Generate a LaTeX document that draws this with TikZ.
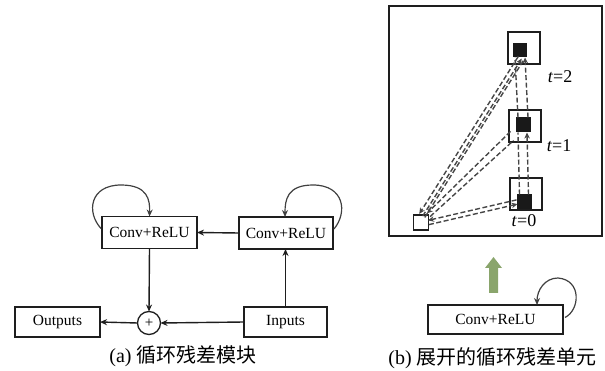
\documentclass[tikz,border=0pt]{standalone}
\usepackage{fontspec}
\setmainfont{Liberation Serif}
\newfontfamily\cjk{Noto Sans CJK SC}
\usetikzlibrary{arrows.meta,calc}
\definecolor{ink}{RGB}{30,30,30}
\definecolor{dashgray}{RGB}{70,70,70}
\definecolor{upgreen}{RGB}{138,165,108}
\begin{document}
\begin{tikzpicture}[x=1pt,y=-1pt,
  every node/.style={inner sep=0pt,outer sep=0pt},
  blockbox/.style={draw=ink,line width=1.3pt,font=\fontsize{15.5}{17}\selectfont,anchor=center},
  flow/.style={draw=ink,line width=1.4pt,-{Stealth[length=7pt,width=6pt]}},
  loopline/.style={draw=ink!85,line width=1.2pt,-{Stealth[length=7pt,width=6pt]}},
  frame/.style={draw=ink,line width=1.4pt},
  cellbox/.style={draw=ink,line width=1.4pt,minimum width=32pt,minimum height=32pt},
  blackcell/.style={fill=black!90,minimum size=15pt},
  dl/.style={draw=dashgray,line width=1.4pt,dash pattern=on 5pt off 2.5pt},
  dlarrow/.style={dl,-{Stealth[length=6pt,width=5.5pt]}},
  tlabel/.style={font=\fontsize{18}{20}\selectfont},
  caption/.style={font=\fontsize{20}{22}\selectfont}
]
\useasboundingbox (0,0) rectangle (605,371);

% ---------- (a) recurrent residual block ----------
\node[blockbox,minimum width=95pt,minimum height=32pt] (c1) at (149.5,232.5) {Conv+ReLU};
\node[blockbox,minimum width=94pt,minimum height=32pt] (c2) at (286,233) {Conv+ReLU};
\node[blockbox,minimum width=85pt,minimum height=30pt] (out) at (57.5,322) {Outputs};
\node[blockbox,minimum width=83pt,minimum height=30pt] (in) at (285.5,322) {Inputs};
\node[draw=ink,line width=1.3pt,circle,minimum size=23pt,font=\fontsize{15}{16}\selectfont] (plus) at (149,323) {+};

\draw[flow] (c2.west) -- (c1.east);
\draw[flow] (in.north) -- (in.north |- c2.south);
\draw[flow] (c1.south) -- (plus.north);
\draw[flow] (in.west) -- (plus.east);
\draw[flow] (plus.west) -- (out.east);

% self loops
\draw[loopline] ([shift={(-1,-4)}]c1.west)
  .. controls (86,212) and (90,185) .. (121,185)
  .. controls (148,185) and (150,200) .. (c1.north);
\draw[loopline] ([shift={(1,-4)}]c2.east)
  .. controls (348,212) and (344,185) .. (313,185)
  .. controls (287,185) and (285,200) .. ([xshift=-1]c2.north);

\node[caption,anchor=center] (capa) at (183,356) {(a) {\cjk 循环残差模块}};

% ---------- (b) unrolled recurrent residual unit ----------
\draw[frame] (389,6) rectangle (602,236);

\node[cellbox] (f2) at (524,48) {};
\node[cellbox] (f1) at (525,126) {};
\node[cellbox] (f0) at (526,194) {};
\node[blackcell,minimum size=14pt] (b2) at (520,50.5) {};
\node[blackcell] (b1) at (523,125) {};
\node[blackcell] (b0) at (524.5,202) {};
\node[draw=ink,line width=1.1pt,fill=white,minimum size=15pt] (ws) at (421,222.5) {};

% input node to every time step
\draw[dlarrow] ([shift={(1.7,1.1)}]ws.north) -- ([shift={(1.7,1.1)}]b2.south);
\draw[dlarrow] ([shift={(-1.7,-1.1)}]b2.south) -- ([shift={(-1.7,-1.1)}]ws.north);
\draw[dl] ([shift={(3.8,2.4)}]ws.north) -- ([shift={(3.8,2.4)}]b2.south);

\draw[dl] ([shift={(1.6,1.6)}]ws.north east) -- ([shift={(-2,8)}]b1.south west);
\draw[dlarrow] ([shift={(-5,-1)}]b1.south west) -- ([shift={(-1.6,-1.6)}]ws.north east);

\draw[dlarrow] ([shift={(0.5,2.1)}]ws.east) -- ([shift={(0.5,2.1)}]b0.west);
\draw[dlarrow] ([shift={(-0.5,-2.1)}]b0.west) -- ([shift={(-0.5,-2.1)}]ws.east);

% between time steps
\draw[dl] ([xshift=-5]b0.north) -- ([xshift=-5]b1.south);
\draw[dlarrow] ([xshift=4]b0.north) -- ([xshift=4]b1.south);
\draw[dl] ([xshift=-5]b1.north) -- ([xshift=-5]b2.south);
\draw[dlarrow] ([xshift=5]b1.north) -- ([xshift=5]b2.south);

\node[tlabel,anchor=center] (t2) at (560,77) {\textit{t}=2};
\node[tlabel,anchor=center] (t1) at (559,146) {\textit{t}=1};
\node[tlabel,anchor=center] (t0) at (524,221) {\textit{t}=0};

% unrolling arrow
\fill[upgreen] (489,293) -- (489,268) -- (485,268) -- (493.5,257) -- (502,268) -- (498,268) -- (498,293) -- cycle;

\node[blockbox,minimum width=135pt,minimum height=29pt] (cb) at (495.5,319.5) {Conv+ReLU};
\draw[loopline] ([shift={(2,-2)}]cb.east)
  .. controls (580,310) and (582,280) .. (558,278)
  .. controls (545,278) and (537,290) .. ([xshift=41.5]cb.north);

\node[caption,anchor=center] (capb) at (492.5,358) {(b) {\cjk 展开的循环残差单元}};
\end{tikzpicture}
\end{document}
